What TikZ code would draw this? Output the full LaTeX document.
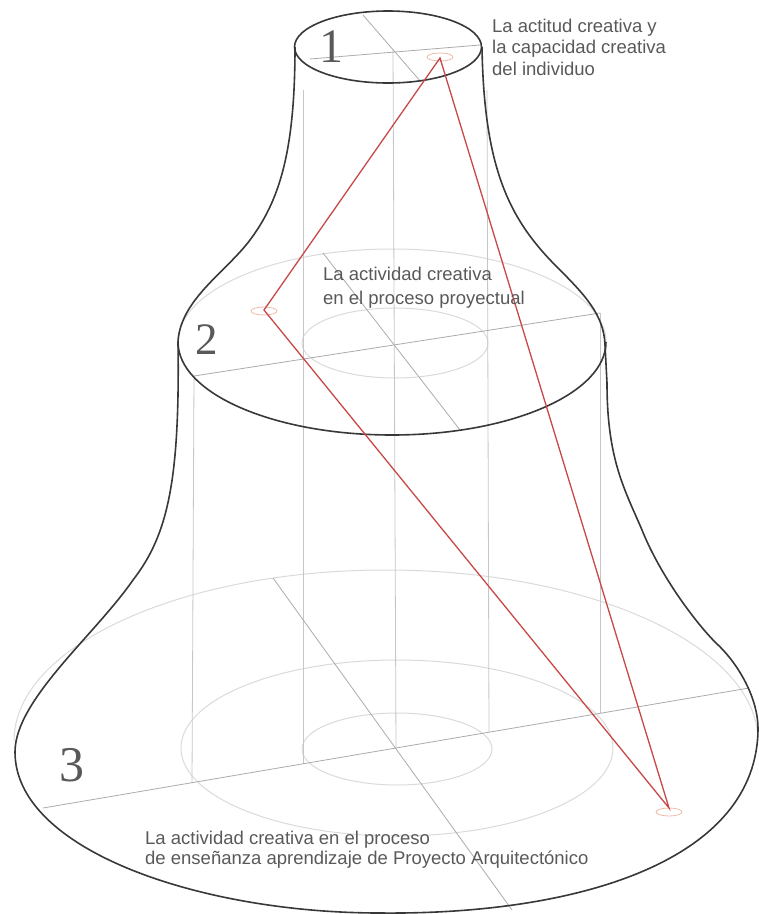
\documentclass[tikz,border=0pt]{standalone}
\usepackage{fontspec}
\setmainfont{Liberation Serif}
\newfontfamily\capfont{Liberation Sans}
\usepackage{tikz}
\usetikzlibrary{shapes.geometric}
\definecolor{bellline}{HTML}{383838}
\definecolor{guidegrey}{HTML}{C6C6C6}
\definecolor{ringgrey}{HTML}{DADADA}
\definecolor{crossgrey}{HTML}{ABABAB}
\definecolor{routered}{HTML}{C84848}
\definecolor{markred}{HTML}{EDB8A8}
\definecolor{textgrey}{HTML}{595959}

\begin{document}
\begin{tikzpicture}[x=1pt, y=-1pt,
                bell/.style={draw=bellline, line width=1.6pt},
                guide/.style={draw=guidegrey, line width=0.8pt},
                ring/.style={draw=ringgrey, line width=1pt},
                cross/.style={draw=crossgrey, line width=0.8pt},
                route/.style={draw=routered, line width=1.3pt},
                marker/.style={draw=markred, line width=0.8pt, ellipse, minimum width=26pt, minimum height=8pt, inner sep=0pt},
                levelnum/.style={text=textgrey, inner sep=0pt},
                caption/.style={text=textgrey, align=left, anchor=north west, inner sep=0pt}
            ]
            \useasboundingbox (0,0) rectangle (759,914);

            % Hilfsellipsen
            \draw[ring] (14,741) arc[start angle=180, end angle=360, x radius=372, y radius=171];
            \draw[ring] (397,748) ellipse[x radius=216, y radius=88];
            \draw[ring] (397,749) ellipse[x radius=95, y radius=36];
            \draw[ring] (178,342) arc[start angle=180, end angle=360, x radius=214, y radius=93];
            \draw[ring] (395,343) ellipse[x radius=93, y radius=35];

            % Senkrechte und Achsen
            \draw[guide] (393,50) -- (396,748);
            \draw[guide] (303,90) -- (303,764);
            \draw[guide] (487,90) -- (489,732);
            \draw[guide] (194,376) -- (192,783);
            \draw[guide] (600,313) -- (600,713);
            \draw[cross] (310,59) -- (480,45);
            \draw[cross] (363,15) -- (421,82);
            \draw[cross] (194,376) -- (600,313);
            \draw[cross] (323,253) -- (460,430);
            \draw[cross] (43,808) -- (749,688);
            \draw[cross] (273,578) -- (512,910);

            % Umriss
            \draw[bell] (295,47) .. controls (295,150) and (280,200) .. (250,240)
                .. controls (226,272) and (180,300) .. (178,342)
                .. controls (180,480) and (168,535) .. (133,580)
                .. controls (95,635) and (15,700) .. (15,752)
                .. controls (15,850) and (200,913) .. (380,913)
                .. controls (580,915) and (758,860) .. (758,728)
                .. controls (758,700) and (740,665) .. (716,643)
                .. controls (695,622) and (660,575) .. (642,530)
                .. controls (625,490) and (607,460) .. (607,383)
                -- (605,345)
                .. controls (604,315) and (585,295) .. (557,267)
                .. controls (510,220) and (484,170) .. (482,47);
            \draw[bell] (388,47) ellipse[x radius=93.5, y radius=36];
            \draw[bell] (178,342) arc[start angle=180, end angle=0, x radius=214, y radius=93];

            % Punkte und Verbindung
            \coordinate (P1) at (440,58);
            \coordinate (P2) at (264,310);
            \coordinate (P3) at (669,808);
            \node[marker] (M1) at (440,57) {};
            \node[marker] (M2) at (264,311) {};
            \node[marker] (M3) at (669,812) {};
            \draw[route] (P1) -- (P2) -- (P3) -- cycle;

            % Texte
            \node[levelnum, font=\fontsize{48}{48}\selectfont] (N1) at (331,47) {1};
            \node[levelnum, font=\fontsize{45}{45}\selectfont] (N2) at (207,340) {2};
            \node[levelnum, font=\fontsize{50}{50}\selectfont] (N3) at (72,765) {3};
            \node[caption, font=\capfont\fontsize{18.5}{21.5}\selectfont] (T1) at (492,18.5) {La actitud creativa y\\la capacidad creativa\\del individuo};
            \node[caption, font=\capfont\fontsize{18.5}{24}\selectfont] (T2) at (323,266.5) {La actividad creativa\\en el proceso proyectual};
            \node[caption, font=\capfont\fontsize{18.5}{20}\selectfont] (T3) at (145,831) {La actividad creativa en el proceso\\de enseñanza aprendizaje de Proyecto Arquitectónico};

        \end{tikzpicture}
\end{document}
